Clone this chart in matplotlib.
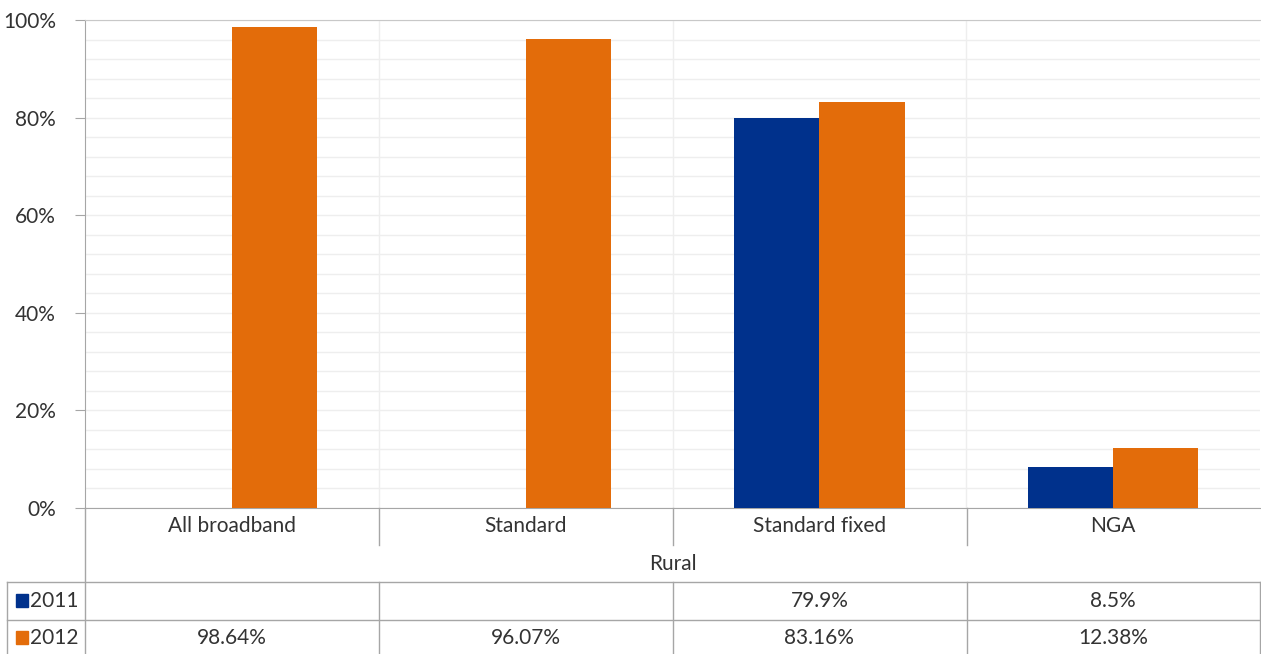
import matplotlib.pyplot as plt
from matplotlib.lines import Line2D
from matplotlib.patches import Rectangle

plt.rcParams['font.family'] = ['Lato', 'DejaVu Sans']

categories = ['All broadband', 'Standard', 'Standard fixed', 'NGA']
group_label = 'Rural'
years = ['2011', '2012']
v2011 = [None, None, 79.9, 8.5]
v2012 = [98.64, 96.07, 83.16, 12.38]
labels2011 = ['', '', '79.9%', '8.5%']
labels2012 = ['98.64%', '96.07%', '83.16%', '12.38%']

blue = '#00318C'
orange = '#E36C0A'
line_c = '#a6a6a6'
tc = '#333333'
fs = 15

W, H = 1261, 654
fig = plt.figure(figsize=(W / 100, H / 100), dpi=100)
ax = fig.add_axes([85 / W, 1 - 508 / H, (1260 - 85) / W, (508 - 20) / H])

bw = 0.29
x = [i + 0.5 for i in range(len(categories))]
ax.bar([xi - bw / 2 for xi, v in zip(x, v2011) if v is not None],
       [v for v in v2011 if v is not None], width=bw, color=blue, zorder=3)
ax.bar([xi + bw / 2 for xi in x], v2012, width=bw, color=orange, zorder=3)

ax.set_xlim(0, 4)
ax.set_ylim(0, 100)
ax.set_yticks(range(0, 101, 20))
ax.set_yticklabels([f'{t}%' for t in range(0, 101, 20)], fontsize=fs, color=tc)
ax.set_yticks(range(0, 101, 4), minor=True)
ax.tick_params(axis='y', which='major', length=7, color=line_c, pad=14)
ax.tick_params(axis='y', which='minor', length=0)
ax.set_xticks([1, 2, 3])
ax.set_xticklabels([])
ax.tick_params(axis='x', length=0)
ax.grid(True, which='both', axis='y', color='#eeeeee', lw=1, zorder=0)
ax.grid(True, axis='x', color='#eeeeee', lw=1, zorder=0)
ax.spines['right'].set_visible(False)
ax.spines['top'].set_color('#c8c8c8')
ax.spines['left'].set_color(line_c)
ax.spines['bottom'].set_color(line_c)


def fy(py):
    return 1 - py / H


def fx(px):
    return px / W


def colx(xi):
    # data x -> figure x
    return fx(85) + xi / 4 * fx(1175)


# table / category separators
lines = [
    (85, 85, 508, 654),
    (379, 379, 508, 545), (673, 673, 508, 545), (967, 967, 508, 545),
    (7, 1260, 582, 582), (7, 1260, 620, 620),
    (7, 7, 582, 654),
    (379, 379, 582, 654), (673, 673, 582, 654), (967, 967, 582, 654),
    (1260, 1260, 582, 654),
]
for x0, x1, y0, y1 in lines:
    fig.add_artist(Line2D([fx(x0), fx(x1)], [fy(y0), fy(y1)], color=line_c, lw=1))

for xi, c in zip(x, categories):
    fig.text(colx(xi), fy(526), c, ha='center', va='center', fontsize=fs, color=tc)
fig.text(fx(673), fy(564), group_label, ha='center', va='center', fontsize=fs, color=tc)

for row_y, yr, col, vals in [(601, years[0], blue, labels2011), (638, years[1], orange, labels2012)]:
    fig.add_artist(Rectangle((fx(16), fy(row_y + 6)), fx(12), 13 / H, color=col,
                             transform=fig.transFigure))
    fig.text(fx(30), fy(row_y), yr, ha='left', va='center', fontsize=fs, color=tc)
    for xi, s in zip(x, vals):
        fig.text(colx(xi), fy(row_y), s, ha='center', va='center', fontsize=fs, color=tc)

fig.savefig('out.png', dpi=100)
